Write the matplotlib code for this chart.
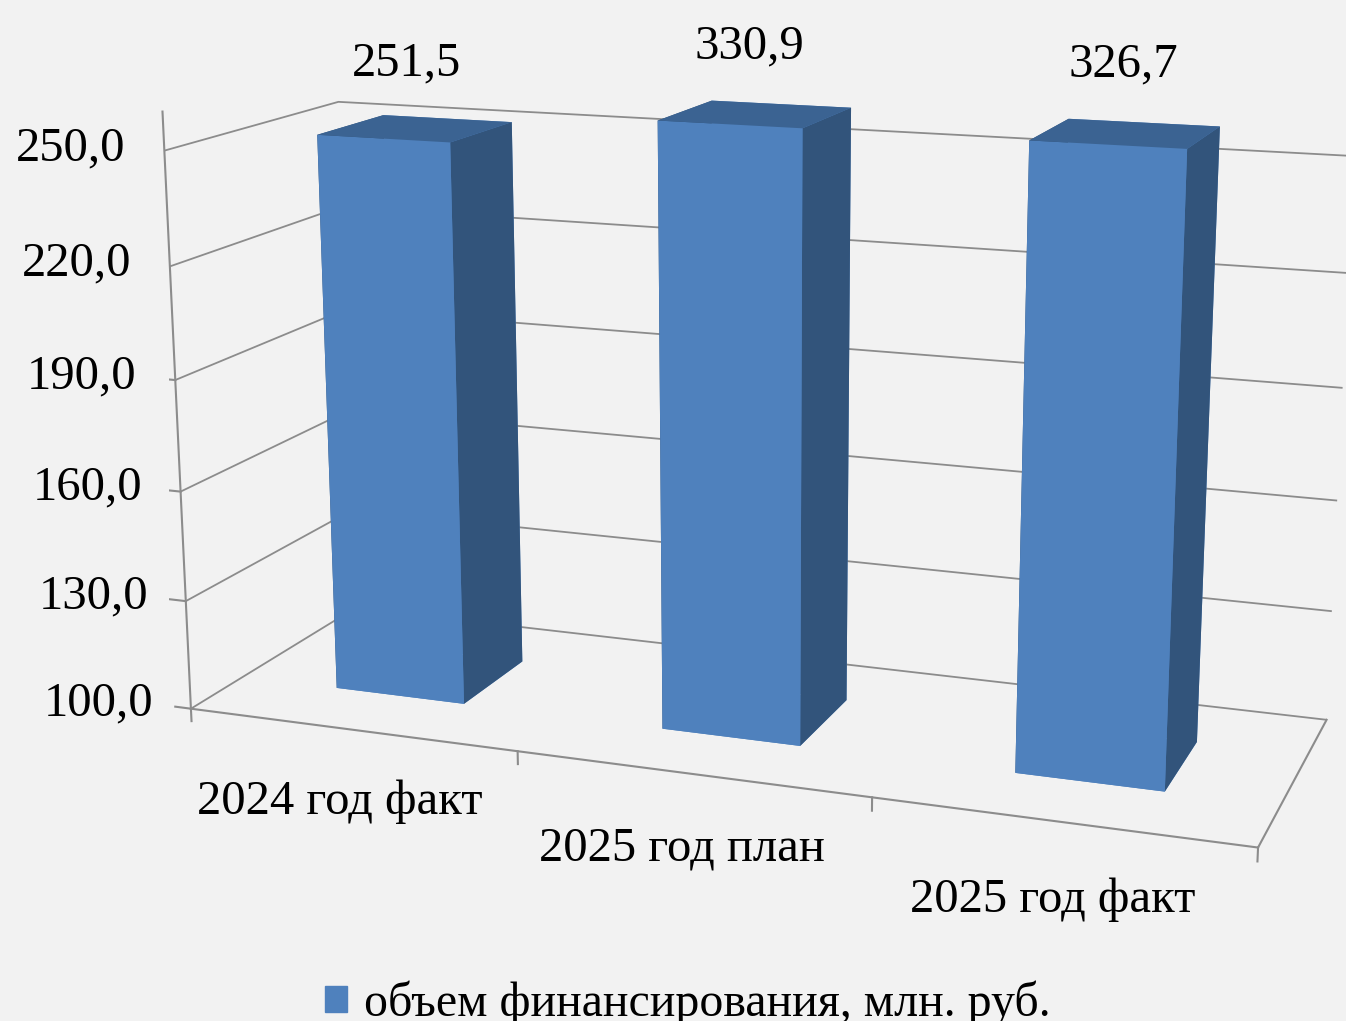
"""
3D column chart: financing volume by year (plan / fact)
"""

import numpy as np
import matplotlib.pyplot as plt
from matplotlib.patches import Patch

# ---- data ----
categories = ['2024 год факт', '2025 год план', '2025 год факт']
values = [251.5, 330.9, 326.7]
value_labels = ['251,5', '330,9', '326,7']
z_ticks = [100, 130, 160, 190, 220, 250]
z_tick_labels = ['100,0', '130,0', '160,0', '190,0', '220,0', '250,0']
series_name = 'объем финансирования, млн. руб.'

z_min, z_max = 100, 260

# ---- style ----
bg = '#f2f2f2'
c_front = '#4f81bd'
c_side = '#32547b'
c_top = '#3b6392'
c_grid = '#8c8c8c'
fs = 35

plt.rcParams['font.family'] = ['Liberation Serif', 'DejaVu Serif']

fig = plt.figure(figsize=(13.46, 10.21), dpi=100, facecolor=bg)
ax = fig.add_axes([-0.075, 0.012, 1.25, 1.12], projection='3d',
                  proj_type='persp', focal_length=0.49)
ax.set_facecolor(bg)
ax.view_init(elev=14, azim=-70)
ax.set_box_aspect((3.35, 1.11, 1.874), zoom=1.119)

ax.set_xlim(0, len(categories))
ax.set_ylim(0, 1)
ax.set_zlim(z_min, z_max)

# bars, clipped at the top of the value axis like the original
n = len(values)
bar_w = 0.4
bar_d = 0.4
xs = np.arange(n) + 0.5 - bar_w / 2
ys = np.full(n, 0.5 - bar_d / 2)
tops = [min(v, z_max) for v in values]
heights = [t - z_min for t in tops]
# face order in bar3d: -z, +z, -y, +y, -x, +x
face_colors = [c_front, c_top, c_front, c_front, c_side, c_side] * n
ax.bar3d(xs, ys, np.full(n, z_min), bar_w, bar_d, heights,
         color=face_colors, shade=False, edgecolor='none')

# value labels above the bars
for i, lab in enumerate(value_labels):
    ax.text(i + 0.5, 0.45, tops[i] + 12, lab, ha='center', va='bottom',
            fontsize=fs)

# axes look
for axis in (ax.xaxis, ax.yaxis, ax.zaxis):
    axis.set_pane_color((1, 1, 1, 0))
    axis.line.set_color(c_grid)
    axis.line.set_linewidth(1.5)
    axis._axinfo['tick']['inward_factor'] = 0
    axis._axinfo['tick']['outward_factor'] = 0
    axis.label.set_visible(False)
    axis.offsetText.set_visible(False)
for axis in (ax.xaxis, ax.yaxis):
    axis._axinfo['grid']['color'] = (1, 1, 1, 0)
ax.zaxis._axinfo['grid']['color'] = c_grid
ax.zaxis._axinfo['grid']['linewidth'] = 1.3
ax.zaxis.set_ticks_position('lower')

ax.set_yticks([])
ax.set_xticks(np.arange(n) + 0.5, categories, fontsize=fs)
ax.tick_params(axis='x', pad=23)
ax.set_zticks(z_ticks)
ax.zaxis.set_tick_params(label1On=False)

# value axis: tick marks pointing left and their labels
for z, lab in zip(z_ticks, z_tick_labels):
    ax.plot([0, -0.05], [0, 0], [z, z], color=c_grid, lw=1.5)
    ax.text(-0.12, 0, z, lab, ha='right', va='center', fontsize=fs)
# category boundary tick marks on the floor edge
for i in range(n + 1):
    ax.plot([i, i], [0, 0], [z_min, z_min - 3.5], color=c_grid, lw=1.5)

fig.legend(handles=[Patch(color=c_front, label=series_name)],
           loc='lower center', bbox_to_anchor=(0.511, -0.047), frameon=False,
           fontsize=34.5, handlelength=0.45, handleheight=0.45,
           handletextpad=0.35)

fig.savefig('out.png', dpi=100, facecolor=bg)
